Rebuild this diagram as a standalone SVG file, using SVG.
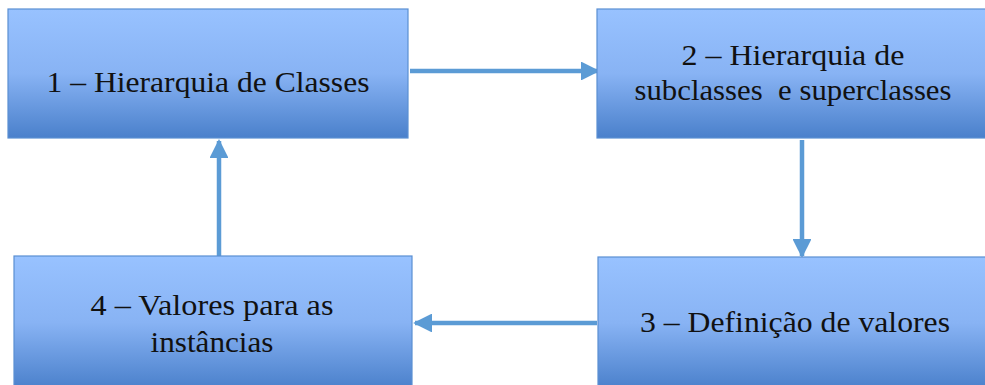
<svg xmlns="http://www.w3.org/2000/svg" width="985" height="385" viewBox="0 0 985 385">
  <style>
    .box { fill: url(#boxFill); stroke: #5a8fd2; stroke-width: 1.2; }
    .label { font-family: 'Liberation Serif', 'Times New Roman', 'DejaVu Serif', serif; font-size: 29px; fill: #111; text-anchor: middle; }
    .link { stroke: #5b9bd5; stroke-width: 4.5; fill: none; marker-end: url(#head); }
  </style>
  <defs>
    <linearGradient id="boxFill" x1="0" y1="0" x2="0" y2="1">
      <stop offset="0" stop-color="#98c2ff"/>
      <stop offset="0.5" stop-color="#88b3f4"/>
      <stop offset="1" stop-color="#4a80cb"/>
    </linearGradient>
    <marker id="head" viewBox="0 0 10 10" refX="9" refY="5" markerWidth="4.2" markerHeight="4.2" orient="auto" markerUnits="strokeWidth">
      <path d="M0,0 L10,5 L0,10 Z" fill="#5b9bd5"/>
    </marker>
  </defs>

  <g id="connectors">
    <line class="link" x1="410" y1="71" x2="598" y2="71"/>
    <line class="link" x1="802" y1="140" x2="802" y2="256"/>
    <line class="link" x1="597" y1="323" x2="415" y2="323"/>
    <line class="link" x1="219" y1="256" x2="219" y2="141"/>
  </g>

  <g id="node1">
    <rect class="box" x="8" y="9" width="400" height="129"/>
    <text class="label" x="208" y="92" textLength="323" lengthAdjust="spacingAndGlyphs">1 – Hierarquia de Classes</text>
  </g>

  <g id="node2">
    <rect class="box" x="597" y="9" width="392" height="129"/>
    <text class="label" x="793" y="65" textLength="223" lengthAdjust="spacingAndGlyphs">2 – Hierarquia de</text>
    <text class="label" x="793" y="100" textLength="317" lengthAdjust="spacingAndGlyphs" xml:space="preserve">subclasses  e superclasses</text>
  </g>

  <g id="node3">
    <rect class="box" x="598" y="257" width="392" height="132"/>
    <text class="label" x="795" y="332" textLength="310" lengthAdjust="spacingAndGlyphs">3 – Definição de valores</text>
  </g>

  <g id="node4">
    <rect class="box" x="14" y="256" width="398" height="133"/>
    <text class="label" x="212" y="315" textLength="243" lengthAdjust="spacingAndGlyphs">4 – Valores para as</text>
    <text class="label" x="212" y="352" textLength="123" lengthAdjust="spacingAndGlyphs">instâncias</text>
  </g>
</svg>
